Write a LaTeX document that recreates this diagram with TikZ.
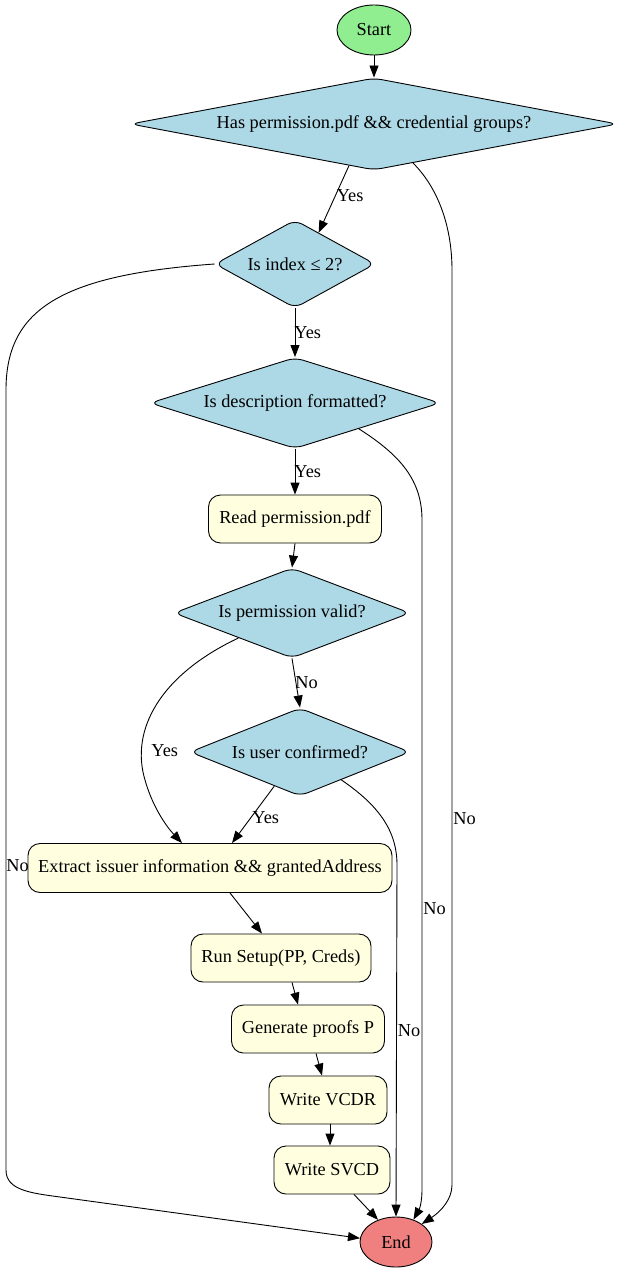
\documentclass[tikz,border=0pt]{standalone}
\usepackage{fontspec}
\setmainfont{Liberation Serif}
\usetikzlibrary{shapes.geometric,arrows.meta}
\definecolor{startgreen}{HTML}{90EE90}
\definecolor{endred}{HTML}{F08080}
\definecolor{askblue}{HTML}{ADD8E6}
\definecolor{stepyellow}{HTML}{FFFFE0}

\begin{document}
\begin{tikzpicture}[
  x=1pt, y=-1pt,
  font=\fontsize{18.3}{20}\selectfont,
  line width=0.9pt,
  >={Triangle[length=12pt,width=9pt]},
  termnode/.style={draw,ellipse,inner sep=0pt},
  asknode/.style={draw,diamond,fill=askblue,rounded corners=8pt,inner sep=0pt},
  stepnode/.style={draw,rectangle,fill=stepyellow,rounded corners=12pt,inner sep=0pt},
  lbl/.style={inner sep=1pt}
]
\useasboundingbox (0,0) rectangle (633,1271);

\node[termnode,fill=startgreen,minimum width=74pt,minimum height=50pt] (start) at (374,30) {Start};
\node[asknode,aspect=5.3,minimum width=487pt,minimum height=92pt] (hasperm) at (374,124) {Has permission.pdf \&\& credential groups?};
\node[asknode,aspect=1.82,minimum width=160pt,minimum height=88pt] (index) at (295,264) {Is index ≤ 2?};
\node[asknode,aspect=3.2,minimum width=290pt,minimum height=91pt] (descr) at (295,403) {Is description formatted?};
\node[stepnode,minimum width=173pt,minimum height=48pt] (readperm) at (295,519) {Read permission.pdf};
\node[asknode,aspect=2.6,minimum width=236pt,minimum height=90pt] (valid) at (292,613) {Is permission valid?};
\node[asknode,aspect=2.5,minimum width=220pt,minimum height=88pt] (confirm) at (300,752) {Is user confirmed?};
\node[stepnode,minimum width=364pt,minimum height=49pt] (extract) at (210,868) {Extract issuer information \&\& grantedAddress};
\node[stepnode,minimum width=180pt,minimum height=48pt] (setup) at (281,958) {Run Setup(PP, Creds)};
\node[stepnode,minimum width=153pt,minimum height=48pt] (proofs) at (308,1029) {Generate proofs P};
\node[stepnode,minimum width=118pt,minimum height=48pt] (vcdr) at (328,1100) {Write VCDR};
\node[stepnode,minimum width=116pt,minimum height=48pt] (svcd) at (332,1170) {Write SVCD};
\node[termnode,fill=endred,minimum width=72pt,minimum height=50pt] (end) at (396,1242) {End};

% main line
\draw[->] (start.south) -- (hasperm.north);
\draw[->] (hasperm.239) -- node[lbl,right,pos=0.45] {Yes} (index.53);
\draw[->] (index.south) -- node[lbl,right,pos=0.5,xshift=-2pt] {Yes} (descr.north);
\draw[->] (descr.south) -- node[lbl,right,pos=0.5,xshift=-2pt] {Yes} (readperm.north);
\draw[->] (readperm.south) -- (valid.north);
\draw[->] (valid.south) -- node[lbl,right,pos=0.5,xshift=-2pt] {No} (confirm.north);
\draw[->] (valid.205) .. controls (160,675) and (130,730) .. (145,780)
  node[lbl,right,xshift=5pt,yshift=29pt] {Yes}
  .. controls (152,805) and (165,825) .. ([xshift=-28pt]extract.north);
\draw[->] (confirm.233) -- node[lbl,right,pos=0.55] {Yes} ([xshift=22pt]extract.north);
\draw[->] ([xshift=20pt]extract.south) -- ([xshift=-19pt]setup.north);
\draw[->] ([xshift=11pt]setup.south) -- ([xshift=-10pt]proofs.north);
\draw[->] ([xshift=8pt]proofs.south) -- ([xshift=-6pt]vcdr.north);
\draw[->] ([xshift=2pt]vcdr.south) -- ([xshift=-2pt]svcd.north);
\draw[->] ([xshift=22pt]svcd.south) -- (end.129);

% no branches
\draw[->] (hasperm.-45) .. controls (440,190) and (452,230) .. (452,270)
  -- (452,1185) node[lbl,right,pos=0.6] {No}
  .. controls (452,1200) and (440,1212) .. (end.35);
\draw[->] (index.west) .. controls (60,275) and (6,310) .. (6,390)
  -- (6,1170) node[lbl,right,pos=0.61,xshift=-1pt] {No}
  .. controls (6,1190) and (30,1193) .. (60,1197) -- (end.174);
\draw[->] (descr.-22) .. controls (400,455) and (422,480) .. (422,520)
  -- (422,1190) node[lbl,right,pos=0.58] {No}
  .. controls (422,1200) and (420,1208) .. (end.52);
\draw[->] (confirm.-34) .. controls (378,805) and (397,830) .. (397,865)
  -- node[lbl,right,pos=0.47] {No} (end.north);
\end{tikzpicture}
\end{document}
